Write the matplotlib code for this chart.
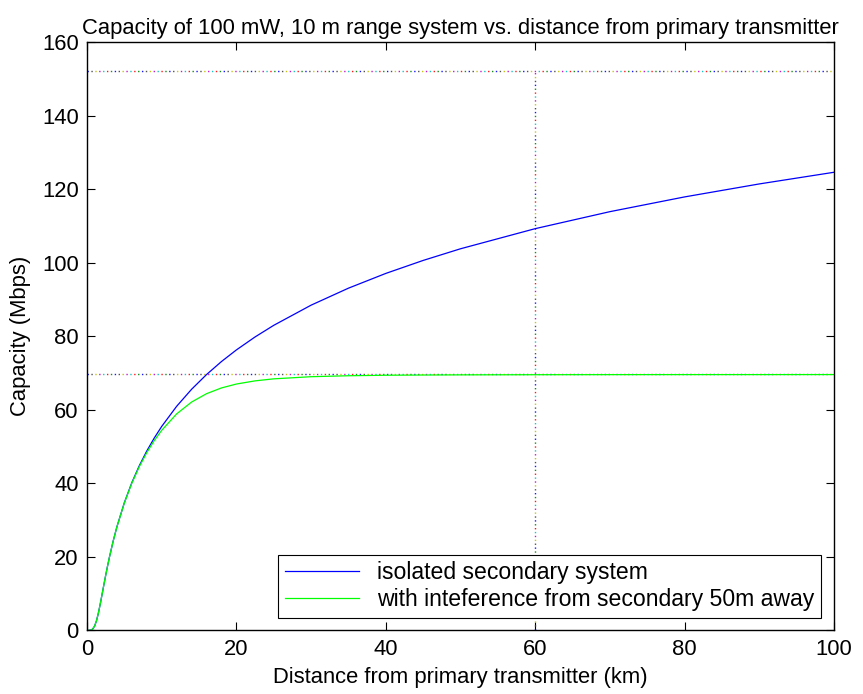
import matplotlib
matplotlib.use("Agg")
import matplotlib.pyplot as plt

# distance from primary transmitter (km)
distance_km = [0, 0.5, 0.75, 1, 1.25, 1.5, 1.75, 2, 2.25, 2.5, 2.75, 3, 3.5, 4,
               5, 6, 7, 8, 9, 10, 12, 14, 16, 18, 20, 22.5, 25, 30, 35, 40,
               45, 50, 60, 70, 80, 90, 100]

# capacity (Mbps) of the isolated secondary system
cap_isolated = [0, 0.08, 0.38, 1.13, 2.51, 4.51, 6.95, 9.62, 12.33, 14.98, 17.50,
                19.90, 24.28, 28.16, 34.75, 40.19, 44.79, 48.79, 52.32, 55.48,
                60.95, 65.58, 69.58, 73.12, 76.28, 79.81, 82.97, 88.45, 93.07,
                97.08, 100.61, 103.78, 109.25, 113.87, 117.88, 121.41, 124.58]

# capacity (Mbps) with interference from a secondary 50 m away
cap_interf = [0, 0.08, 0.38, 1.13, 2.51, 4.51, 6.95, 9.62, 12.33, 14.97, 17.49,
              19.89, 24.26, 28.13, 34.68, 40.04, 44.53, 48.34, 51.61, 54.42,
              58.89, 62.11, 64.38, 65.95, 67.01, 67.87, 68.42, 69.00, 69.26,
              69.40, 69.46, 69.50, 69.54, 69.56, 69.57, 69.57, 69.58]

# dotted reference lines
ref_levels = [152, 69.6]
ref_distance = 60
matlab_colors = [(0, 0, 1), (0, 0.5, 0), (1, 0, 0), (0, 0.75, 0.75),
                 (0.75, 0, 0.75), (0.75, 0.75, 0), (0.25, 0.25, 0.25)]

plt.rcParams['font.family'] = ['Liberation Sans', 'DejaVu Sans']
plt.rcParams['font.size'] = 15.8
plt.rcParams['lines.scale_dashes'] = False

fig = plt.figure(figsize=(8.63, 6.94), dpi=100)
ax = fig.add_axes([0.1008, 0.0915, 0.8656, 0.848])

# multicoloured dotted guide lines (several overlapping dotted lines)
step = 2.8
period = step * len(matlab_colors)
for i, c in enumerate(matlab_colors):
    ls = (i * step, (1.0, period - 1.0))
    for lvl in ref_levels:
        ax.plot([0, 100], [lvl, lvl], color=c, linestyle=ls, linewidth=1.0,
                alpha=0.9, dash_capstyle='butt')
    ax.plot([ref_distance, ref_distance], [0, ref_levels[0]], color=c,
            linestyle=ls, linewidth=1.0, alpha=0.9, dash_capstyle='butt')

ax.plot(distance_km, cap_isolated, color=(0, 0, 1), linewidth=0.9,
        label='isolated secondary system')
ax.plot(distance_km, cap_interf, color=(0, 1, 0), linewidth=0.9,
        label='with inteference from secondary 50m away')

ax.set_xlim(0, 100)
ax.set_ylim(0, 160)
ax.set_xticks(range(0, 101, 20))
ax.set_yticks(range(0, 161, 20))
ax.tick_params(direction='in', top=True, right=True, length=6, width=0.8, pad=6)
for s in ax.spines.values():
    s.set_linewidth(1.0)

ax.set_xlabel('Distance from primary transmitter (km)', labelpad=5)
ax.set_ylabel('Capacity (Mbps)', labelpad=8)
ax.set_title('Capacity of 100 mW, 10 m range system vs. distance from primary transmitter',
             fontsize=15.8, pad=6)

leg = ax.legend(loc='lower right', fancybox=False, framealpha=1, edgecolor='black',
                handlelength=3.2, borderaxespad=0.55, borderpad=0.3, labelspacing=0.15,
                handletextpad=0.8, fontsize=16.6)
leg.get_frame().set_linewidth(0.8)

fig.savefig('out.png', dpi=100)
